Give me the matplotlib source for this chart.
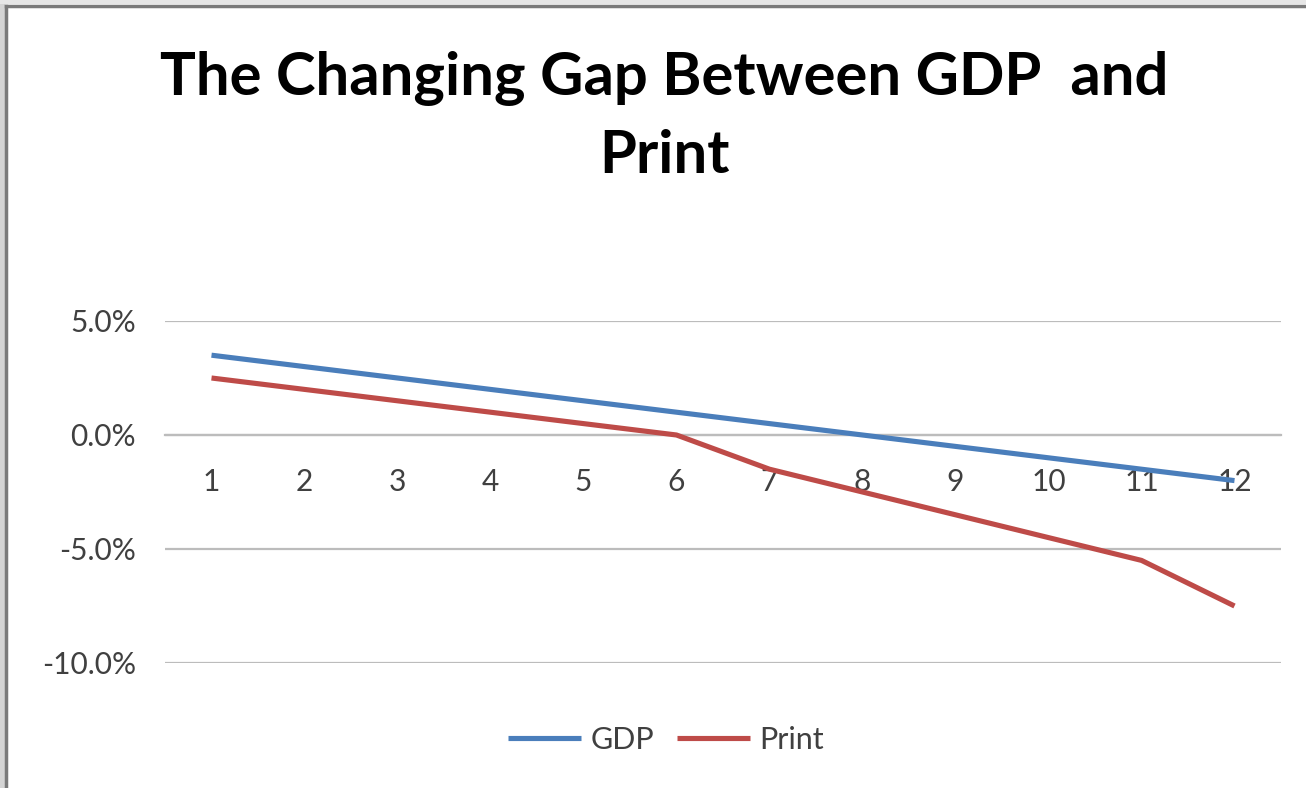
import matplotlib
matplotlib.use("Agg")
import matplotlib.pyplot as plt
from matplotlib.patches import Rectangle
from matplotlib.ticker import FuncFormatter, FixedLocator

periods = [1, 2, 3, 4, 5, 6, 7, 8, 9, 10, 11, 12]
gdp = [3.5, 3.0, 2.5, 2.0, 1.5, 1.0, 0.5, 0.0, -0.5, -1.0, -1.5, -2.0]
print_vals = [2.5, 2.0, 1.5, 1.0, 0.5, 0.0, -1.5, -2.5, -3.5, -4.5, -5.5, -7.5]
y_ticks = [-10.0, -5.0, 0.0, 5.0]

W, H = 1306, 788
fig = plt.figure(figsize=(W / 100, H / 100), dpi=100)
fig.patch.set_facecolor("white")

# chart frame (light margin on the left/top, dark border line)
fig.patches.append(Rectangle((0, 0), 5 / W, 1, transform=fig.transFigure,
                             facecolor="#d4d4d4", edgecolor="none", zorder=0))
fig.patches.append(Rectangle((0, 1 - 4 / H), 1, 4 / H, transform=fig.transFigure,
                             facecolor="#e6e6e6", edgecolor="none", zorder=0))
fig.lines.append(plt.Line2D([6 / W, 6 / W], [0, 1 - 5.5 / H], transform=fig.transFigure,
                            color="#7a7a7a", lw=2.5, zorder=1))
fig.lines.append(plt.Line2D([6 / W, 1], [1 - 5.5 / H, 1 - 5.5 / H], transform=fig.transFigure,
                            color="#7a7a7a", lw=2.5, zorder=1))

left, right = 165 / W, 1281 / W
top, bottom = 1 - 321 / H, 1 - 663 / H
ax = fig.add_axes([left, bottom, right - left, top - bottom])
ax.set_facecolor("none")

font = "Lato"
label_color = "#404040"
grid_color = "#bcbcbc"

ax.plot(periods, gdp, color="#4a7ebb", lw=3.7, solid_capstyle="butt", zorder=4, label="GDP")
ax.plot(periods, print_vals, color="#be4b48", lw=3.7, solid_capstyle="butt", zorder=4, label="Print")

ax.set_xlim(0.5, 12.5)
ax.set_ylim(-10, 5)

ax.yaxis.set_major_locator(FixedLocator(y_ticks))
ax.yaxis.set_major_formatter(FuncFormatter(lambda v, p: f"{v:.1f}%"))
ax.grid(axis="y", color=grid_color, lw=1.6)
ax.set_axisbelow(True)

for s in ["top", "right", "left"]:
    ax.spines[s].set_visible(False)
ax.spines["bottom"].set_position(("data", 0))
ax.spines["bottom"].set_color(grid_color)
ax.spines["bottom"].set_linewidth(1.6)

ax.set_xticks(periods)
ax.set_xticklabels([str(p) for p in periods])
ax.tick_params(axis="x", length=0, pad=24, labelsize=21.5, labelcolor=label_color)
ax.tick_params(axis="y", length=0, pad=21, labelsize=21.5, labelcolor=label_color)
for lab in ax.get_xticklabels() + ax.get_yticklabels():
    lab.set_fontfamily(font)

fig.text(664 / W, 1 - 78 / H, "The Changing Gap Between GDP  and", ha="center", va="center",
         fontsize=43, fontweight="bold", family=font, color="black")
fig.text(664 / W, 1 - 156 / H, "Print", ha="center", va="center",
         fontsize=43, fontweight="bold", family=font, color="black")

leg = fig.legend(loc="center", bbox_to_anchor=(666 / W, 1 - 740 / H), ncol=2, frameon=False,
                 prop={"family": font, "size": 22}, handlelength=2.4, handletextpad=0.3,
                 columnspacing=0.75)
for t in leg.get_texts():
    t.set_color(label_color)

fig.savefig("out.png", dpi=100, facecolor="white")
